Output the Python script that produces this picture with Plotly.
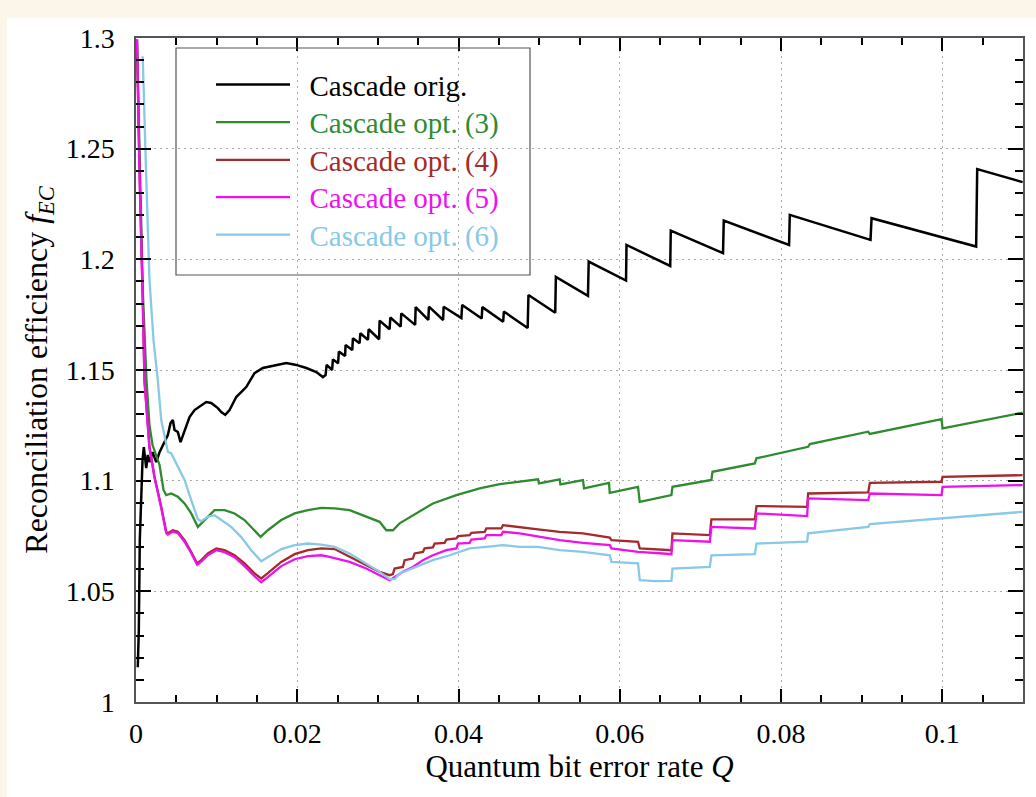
import plotly.graph_objects as go

# ---------------- data ----------------
orig_q = [0.00022, 0.00035, 0.00047, 0.00065, 0.00081, 0.00097, 0.00127, 0.00146, 0.00167, 0.00205,
          0.00251, 0.00292, 0.00333, 0.00395, 0.00428, 0.00457, 0.00478, 0.00519, 0.00552, 0.00602,
          0.00664, 0.00726, 0.00809, 0.00871, 0.00933, 0.01015, 0.01057, 0.01107, 0.01160, 0.01243,
          0.01367, 0.01470, 0.01573, 0.01739, 0.01864, 0.01988, 0.02112, 0.02236, 0.02318,
          0.02351, 0.02364, 0.02432, 0.02442, 0.02506, 0.02516, 0.02593, 0.02599, 0.02682, 0.02690,
          0.02773, 0.02782, 0.02876, 0.02885, 0.03015, 0.03021, 0.03145, 0.03154, 0.03282, 0.03290,
          0.03462, 0.03468, 0.03625, 0.03633, 0.03809, 0.03815, 0.04035, 0.04045, 0.04287, 0.04295,
          0.04553, 0.04562, 0.04857, 0.04867, 0.05199, 0.05207, 0.05605, 0.05614, 0.06077, 0.06083,
          0.06625, 0.06632, 0.07280, 0.07289, 0.08099, 0.08108, 0.09109, 0.09122, 0.10419, 0.10432,
          0.10995]
orig_f = [1.0157, 1.0324, 1.0731, 1.0957, 1.1093, 1.1152, 1.1057, 1.1116, 1.1084, 1.1129,
          1.1084, 1.1129, 1.1161, 1.1206, 1.1260, 1.1274, 1.1229, 1.1220, 1.1174, 1.1229,
          1.1287, 1.1319, 1.1342, 1.1355, 1.1351, 1.1328, 1.1310, 1.1297, 1.1319, 1.1378,
          1.1423, 1.1486, 1.1509, 1.1523, 1.1532, 1.1523, 1.1509, 1.1491, 1.1468,
          1.1477, 1.1523, 1.1500, 1.1548, 1.1530, 1.1583, 1.1563, 1.1613, 1.1590, 1.1643,
          1.1621, 1.1666, 1.1636, 1.1684, 1.1639, 1.1723, 1.1684, 1.1737, 1.1696, 1.1756,
          1.1704, 1.1784, 1.1726, 1.1786, 1.1726, 1.1786, 1.1735, 1.1794, 1.1733, 1.1784,
          1.1718, 1.1764, 1.1690, 1.1839, 1.1759, 1.1921, 1.1835, 1.1990, 1.1904, 1.2065,
          1.1970, 1.2130, 1.2028, 1.2175, 1.2065, 1.2201, 1.2088, 1.2186, 1.2058, 1.2408,
          1.2349]

opt3_q = [0.00012, 0.00043, 0.00084, 0.00130, 0.00167, 0.00205, 0.00251, 0.00292, 0.00341, 0.00375,
          0.00437, 0.00519, 0.00602, 0.00685, 0.00767, 0.00809, 0.00933, 0.00974, 0.01098, 0.01222,
          0.01346, 0.01470, 0.01545, 0.01635, 0.01801, 0.01967, 0.02132, 0.02298, 0.02463, 0.02649,
          0.02856, 0.03021, 0.03104, 0.03186, 0.03269, 0.03476, 0.03682, 0.03973, 0.04262, 0.04510,
          0.04758, 0.04985, 0.04998, 0.05254, 0.05263, 0.05543, 0.05556, 0.05866, 0.05875, 0.06226,
          0.06247, 0.06640, 0.06653, 0.07136, 0.07149, 0.07674, 0.07695, 0.08335, 0.08356, 0.09080,
          0.09101, 0.09990, 0.10002, 0.10995]
opt3_f = [1.2993, 1.2495, 1.1862, 1.1455, 1.1251, 1.1161, 1.1116, 1.1071, 1.0958, 1.0935,
          1.0942, 1.0927, 1.0897, 1.0852, 1.0791, 1.0807, 1.0852, 1.0867, 1.0867, 1.0852,
          1.0822, 1.0776, 1.0746, 1.0776, 1.0822, 1.0852, 1.0867, 1.0877, 1.0875, 1.0867,
          1.0837, 1.0814, 1.0776, 1.0776, 1.0807, 1.0852, 1.0897, 1.0935, 1.0965, 1.0984,
          1.0995, 1.1006, 1.0988, 1.1006, 1.0983, 1.1003, 1.0965, 1.0990, 1.0945, 1.0972,
          1.0904, 1.0935, 1.0972, 1.1003, 1.1040, 1.1078, 1.1101, 1.1153, 1.1165, 1.1221,
          1.1211, 1.1278, 1.1236, 1.1307]

opt4_q = [0.00012, 0.00043, 0.00084, 0.00105, 0.00167, 0.00230, 0.00313, 0.00375, 0.00395, 0.00457,
          0.00519, 0.00602, 0.00685, 0.00759, 0.00809, 0.00891, 0.00995, 0.01098, 0.01222, 0.01346,
          0.01470, 0.01553, 0.01635, 0.01801, 0.01967, 0.02132, 0.02298, 0.02463, 0.02649, 0.02856,
          0.03021, 0.03145, 0.03186, 0.03207, 0.03310, 0.03331, 0.03434, 0.03455, 0.03558, 0.03579,
          0.03682, 0.03703, 0.03827, 0.03849, 0.03973, 0.03993, 0.04138, 0.04159, 0.04324, 0.04345,
          0.04531, 0.04551, 0.04758, 0.04985, 0.05254, 0.05543, 0.05875, 0.05896, 0.06226, 0.06247,
          0.06640, 0.06653, 0.07116, 0.07136, 0.07674, 0.07695, 0.08323, 0.08335, 0.09080, 0.09101,
          0.09990, 0.10002, 0.10995]
opt4_f = [1.2993, 1.2404, 1.1817, 1.1455, 1.1153, 1.1018, 1.0882, 1.0769, 1.0762, 1.0776,
          1.0769, 1.0731, 1.0678, 1.0626, 1.0641, 1.0671, 1.0694, 1.0686, 1.0663, 1.0626,
          1.0581, 1.0558, 1.0582, 1.0633, 1.0668, 1.0686, 1.0694, 1.0691, 1.0656, 1.0618,
          1.0588, 1.0573, 1.0578, 1.0603, 1.0610, 1.0641, 1.0648, 1.0671, 1.0678, 1.0694,
          1.0698, 1.0716, 1.0719, 1.0734, 1.0739, 1.0749, 1.0754, 1.0764, 1.0769, 1.0784,
          1.0784, 1.0799, 1.0789, 1.0780, 1.0769, 1.0762, 1.0743, 1.0731, 1.0724, 1.0694,
          1.0686, 1.0762, 1.0754, 1.0825, 1.0825, 1.0885, 1.0882, 1.0942, 1.0947, 1.0990,
          1.0995, 1.1017, 1.1025]

opt5_q = [0.00012, 0.00043, 0.00084, 0.00105, 0.00167, 0.00230, 0.00313, 0.00375, 0.00395, 0.00457,
          0.00519, 0.00602, 0.00685, 0.00759, 0.00809, 0.00891, 0.00995, 0.01098, 0.01222, 0.01346,
          0.01470, 0.01553, 0.01635, 0.01801, 0.01967, 0.02132, 0.02298, 0.02401, 0.02649, 0.02856,
          0.03021, 0.03145, 0.03186, 0.03310, 0.03434, 0.03558, 0.03682, 0.03849, 0.03973, 0.03993,
          0.04138, 0.04159, 0.04324, 0.04345, 0.04531, 0.04551, 0.04758, 0.04985, 0.05254, 0.05543,
          0.05875, 0.05896, 0.06226, 0.06536, 0.06640, 0.06653, 0.07116, 0.07136, 0.07674, 0.07695,
          0.08323, 0.08335, 0.09080, 0.09101, 0.09990, 0.10002, 0.10995]
opt5_f = [1.2993, 1.2395, 1.1808, 1.1446, 1.1147, 1.1012, 1.0876, 1.0763, 1.0756, 1.0770,
          1.0763, 1.0724, 1.0672, 1.0620, 1.0634, 1.0663, 1.0686, 1.0677, 1.0654, 1.0614,
          1.0568, 1.0541, 1.0564, 1.0614, 1.0645, 1.0659, 1.0663, 1.0656, 1.0633, 1.0603,
          1.0573, 1.0550, 1.0559, 1.0588, 1.0610, 1.0641, 1.0663, 1.0686, 1.0694, 1.0716,
          1.0719, 1.0734, 1.0739, 1.0754, 1.0754, 1.0769, 1.0762, 1.0749, 1.0731, 1.0719,
          1.0709, 1.0694, 1.0678, 1.0671, 1.0668, 1.0731, 1.0724, 1.0791, 1.0784, 1.0852,
          1.0840, 1.0920, 1.0912, 1.0942, 1.0935, 1.0972, 1.0980]

opt6_q = [0.00077, 0.00084, 0.00124, 0.00167, 0.00217, 0.00270, 0.00313, 0.00354, 0.00395, 0.00437,
          0.00519, 0.00602, 0.00685, 0.00767, 0.00809, 0.00891, 0.00974, 0.01057, 0.01181, 0.01305,
          0.01429, 0.01553, 0.01635, 0.01801, 0.01967, 0.02132, 0.02298, 0.02463, 0.02649, 0.02856,
          0.03021, 0.03145, 0.03207, 0.03269, 0.03476, 0.03682, 0.03890, 0.04014, 0.04138, 0.04345,
          0.04551, 0.04758, 0.04985, 0.05254, 0.05543, 0.05875, 0.05896, 0.06226, 0.06247, 0.06433,
          0.06640, 0.06653, 0.07116, 0.07136, 0.07674, 0.07695, 0.08323, 0.08335, 0.09080, 0.09101,
          0.09990, 0.10995]
opt6_f = [1.2917, 1.2910, 1.2404, 1.1907, 1.1636, 1.1455, 1.1274, 1.1198, 1.1131, 1.1123,
          1.1063, 1.1003, 1.0912, 1.0826, 1.0817, 1.0837, 1.0844, 1.0822, 1.0791, 1.0745,
          1.0686, 1.0636, 1.0654, 1.0691, 1.0709, 1.0716, 1.0711, 1.0701, 1.0671, 1.0626,
          1.0588, 1.0555, 1.0555, 1.0581, 1.0610, 1.0641, 1.0663, 1.0678, 1.0694, 1.0701,
          1.0709, 1.0701, 1.0701, 1.0686, 1.0678, 1.0663, 1.0633, 1.0626, 1.0550, 1.0546,
          1.0547, 1.0603, 1.0610, 1.0663, 1.0668, 1.0716, 1.0724, 1.0762, 1.0791, 1.0804,
          1.0829, 1.0859]

series_names = ["Cascade orig.", "Cascade opt. (3)", "Cascade opt. (4)",
                "Cascade opt. (5)", "Cascade opt. (6)"]
series_q = [orig_q, opt3_q, opt4_q, opt5_q, opt6_q]
series_f = [orig_f, opt3_f, opt4_f, opt5_f, opt6_f]
series_colors = ["#000000", "#2e8b2e", "#a52a2a", "#ee11ee", "#87c9e6"]
series_widths = [2.5, 2.3, 2.3, 2.3, 2.3]

x_ticks = [0, 0.02, 0.04, 0.06, 0.08, 0.1]
x_labels = ["0", "0.02", "0.04", "0.06", "0.08", "0.1"]
y_ticks = [1, 1.05, 1.1, 1.15, 1.2, 1.25, 1.3]
y_labels = ["1", "1.05", "1.1", "1.15", "1.2", "1.25", "1.3"]

FONT = "Liberation Serif"
GRID = "#a8a8a8"
GDASH = "2px,4px"

L, R, T, B = 136, 13, 38, 95
W, H = 1036, 797
pw, ph = W - L - R, H - T - B


def px2x(p):
    return (p - L) / pw


def py2y(p):
    return 1 - (p - T) / ph


# legend rows (pixel centres in the reference)
legend_rows = [86.7, 124.3, 162.0, 199.3, 236.7]

fig = go.Figure()
legend_layouts = {}
for i, (name, q, f, col, w) in enumerate(zip(series_names, series_q, series_f,
                                             series_colors, series_widths)):
    lid = "legend" if i == 0 else "legend%d" % (i + 1)
    fig.add_trace(go.Scatter(
        x=q, y=f, mode="lines", line=dict(color=col, width=w),
        name='\u00a0\u00a0<span style="color:%s">%s</span>' % (col, name),
        legend=lid,
    ))
    legend_layouts[lid] = dict(
        x=px2x(211), y=py2y(legend_rows[i] - 2), xanchor="left", yanchor="middle",
        bgcolor="rgba(0,0,0,0)", borderwidth=0,
        font=dict(family=FONT, size=29, color=col), itemwidth=74,
    )

fig.update_layout(
    width=W, height=H,
    margin=dict(l=L, r=R, t=T, b=B),
    paper_bgcolor="#fcf6ea",
    plot_bgcolor="white",
    font=dict(family=FONT, size=28, color="black"),
    showlegend=True,
    xaxis=dict(
        range=[0, 0.11], tickmode="array", tickvals=x_ticks, ticktext=x_labels,
        ticks="inside", ticklen=13, tickwidth=1.5, tickcolor="black",
        showline=True, linecolor="#555", linewidth=1.5, mirror="ticks",
        showgrid=True, gridcolor=GRID, griddash=GDASH, gridwidth=1, zeroline=False,
        minor=dict(tickmode="linear", tick0=0, dtick=0.005, ticks="inside", ticklen=7,
                   tickwidth=1.5, tickcolor="black", showgrid=False),
        tickfont=dict(family=FONT, size=28),
        title=dict(text="Quantum bit error rate <i>Q</i>", font=dict(family=FONT, size=31), standoff=5),
        ticklabelstandoff=6,
    ),
    xaxis2=dict(
        overlaying="x", anchor="y", range=[0, 0.11], tickmode="linear", tick0=0, dtick=0.01,
        showgrid=True, gridcolor=GRID, griddash=GDASH, gridwidth=1,
        showticklabels=False, ticks="", showline=False, zeroline=False,
    ),
    yaxis=dict(
        range=[1, 1.3], tickmode="array", tickvals=y_ticks, ticktext=y_labels,
        ticks="inside", ticklen=15, tickwidth=1.5, tickcolor="black",
        showline=True, linecolor="#555", linewidth=1.5, mirror="ticks",
        showgrid=True, gridcolor=GRID, griddash=GDASH, gridwidth=1, zeroline=False,
        minor=dict(tickmode="linear", tick0=1, dtick=0.01, ticks="inside", ticklen=8,
                   tickwidth=1.5, tickcolor="black", showgrid=False),
        tickfont=dict(family=FONT, size=28),
        title=dict(text="Reconciliation efficiency <i>f</i><sub><i>EC</i></sub>",
                   font=dict(family=FONT, size=32), standoff=8),
        ticklabelstandoff=14,
    ),
    shapes=[
        dict(type="rect", xref="paper", yref="paper", layer="below",
             x0=px2x(7), x1=px2x(1036), y0=py2y(797), y1=py2y(18),
             fillcolor="white", line=dict(width=0)),
        dict(type="rect", xref="paper", yref="paper", layer="above",
             x0=px2x(176), x1=px2x(530), y0=py2y(275), y1=py2y(48),
             fillcolor="rgba(0,0,0,0)", line=dict(color="#555", width=1.2)),
    ],
    **legend_layouts,
)

fig.write_html("out.html")
